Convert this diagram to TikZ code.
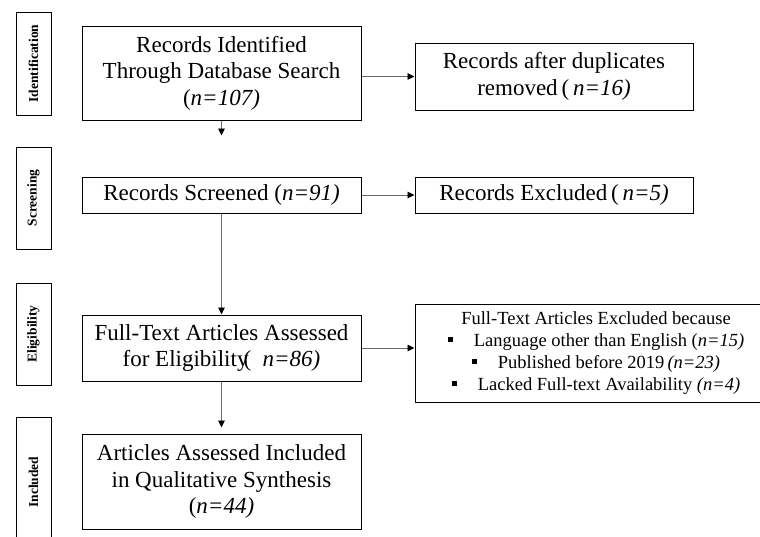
\documentclass[tikz,border=0pt]{standalone}
\usepackage{fontspec}
\setmainfont{Liberation Serif}
\usepackage{tikz}
\usetikzlibrary{positioning, arrows.meta, calc}
\definecolor{linkgray}{RGB}{105,105,105}
\newcommand{\sqbullet}{\rule[4pt]{5pt}{5pt}\hspace{21pt}}

\begin{document}
\begin{tikzpicture}[x=1pt, y=1pt,
	box/.style={draw, line width=1pt, rectangle, minimum width=279pt, align=center, inner sep=2pt, font=\fontsize{23}{26.5}\selectfont},
	side/.style={draw, line width=1pt, rectangle, minimum width=35pt, minimum height=102pt, inner sep=0pt, font=\fontsize{13.5}{14}\selectfont\bfseries},
	flow/.style={draw=linkgray, line width=0.9pt, -{Triangle[length=7pt, width=6.5pt, color=black]}}]
	\clip (0,0) rectangle (760,-536);
	% Stages
	\node[side, minimum height=103pt] (ident) at (33.5,-63.5) {\rotatebox{90}{Identification}};
	\node[side, below=31pt of ident] (screen) {\rotatebox{90}{Screening}};
	\node[side, below=33pt of screen] (elig) {\rotatebox{90}{Eligibility}};
	\node[side, minimum height=130pt, below=31pt of elig] (incl) {\rotatebox{90}{Included}};
	
	% Records
	\node[box, minimum height=94pt] (identified) at (221.5,-73) {
		Records Identified\\
		Through Database Search\\
		(\textit{n=107)}
	};
	
	\node[box, minimum width=278pt, minimum height=67pt, right=53pt of identified, yshift=-3.5pt] (dupl) {
		Records after duplicates\\
		removed\,(\,\textit{n=16)}
	};
	
	\node[box, minimum height=36pt, below=56pt of identified] (screened) {Records Screened (\textit{n=91)}};
	
	\node[box, minimum width=278pt, minimum height=36pt, right=53pt of screened] (excluded) {Records Excluded\,(\,\textit{n=5)}};
	
	\node[box, minimum height=66pt, below=101pt of screened] (fulltext) {
		Full-Text Articles Assessed\\
		for Eligibility\kern-5pt(\enspace\textit{n=86)}
	};
	
	\node[box, minimum width=362pt, minimum height=98pt, font=\fontsize{18.5}{22}\selectfont, right=53pt of fulltext, yshift=-5pt] (reasons) {
		Full-Text Articles Excluded because\\
		\sqbullet Language other than English (\textit{n=15)}\\
		\sqbullet Published before 2019\,\textit{(n=23)}\\
		\sqbullet Lacked Full-text Availability \textit{(n=4)}
	};
	
	\node[box, minimum height=95pt, below=52pt of fulltext] (synthesis) {
		Articles Assessed Included\\
		in Qualitative Synthesis\\
		(\textit{n=44)}
	};
	
	% Flow
	\coordinate[below=15pt of identified] (stub);
	\draw[flow] (identified) -- (stub);
	\draw[flow] (identified.east |- dupl.west) -- (dupl.west);
	\draw[flow] (screened) -- (excluded);
	\draw[flow] (screened) -- (fulltext);
	\draw[flow] (fulltext.east) -- (fulltext.east -| reasons.west);
	\draw[flow, shorten >=6pt] (fulltext) -- (synthesis);
\end{tikzpicture}
\end{document}
